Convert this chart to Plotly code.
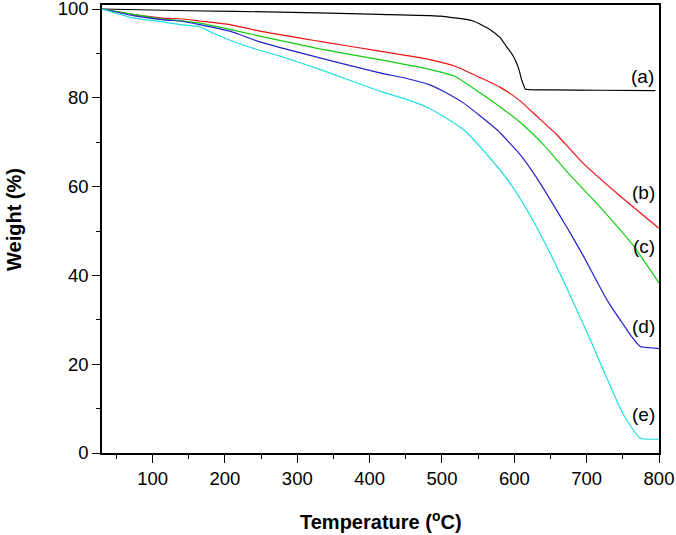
import plotly.graph_objects as go

# Temperature (°C) sample points and weight (%) for each curve
t_a = [30, 150, 276, 414, 497, 543, 566, 580, 589, 597, 603, 607, 610, 613, 615, 650, 720, 795]
w_a = [100, 99.6, 99.3, 98.8, 98.4, 97.3, 95.4, 93.6, 91.6, 89.8, 87.9, 86.0, 84.1, 82.8, 82.0, 81.8, 81.7, 81.6]

t_b = [30, 73, 119, 138, 165, 207, 248, 331, 414, 483, 518, 552, 580, 608, 630, 658, 695, 741, 797, 800]
w_b = [100, 98.8, 97.9, 97.8, 97.3, 96.5, 95.0, 92.7, 90.5, 88.6, 87.1, 84.6, 82.4, 79.3, 76.0, 71.8, 65.3, 58.6, 51.0, 50.6]

t_c = [30, 73, 119, 138, 165, 207, 248, 331, 414, 483, 518, 552, 580, 608, 640, 672, 718, 764, 800]
w_c = [100, 98.8, 97.6, 97.4, 96.8, 95.4, 93.9, 91.0, 88.6, 86.4, 84.8, 81.2, 78.0, 74.5, 69.5, 63.5, 55.5, 46.8, 38.3]

t_d = [30, 73, 119, 138, 165, 207, 248, 331, 414, 450, 483, 505, 530, 576, 608, 630, 672, 695, 728, 764, 774, 795, 800]
w_d = [100, 98.5, 97.5, 97.3, 96.5, 95.0, 92.6, 89.0, 85.6, 84.4, 82.9, 81.2, 78.8, 72.8, 67.2, 62.2, 51.0, 44.5, 34.5, 25.8, 24.0, 23.6, 23.5]

t_e = [30, 73, 119, 138, 165, 183, 230, 276, 331, 414, 450, 483, 505, 530, 566, 594, 622, 654, 705, 750, 774, 795, 800]
w_e = [100, 98.0, 97.0, 96.5, 96.0, 94.6, 91.6, 89.4, 86.4, 81.5, 79.7, 77.6, 75.5, 72.8, 66.5, 60.8, 53.5, 43.5, 25.5, 8.9, 3.3, 3.1, 3.1]

series_names = ["(a)", "(b)", "(c)", "(d)", "(e)"]
series_t = [t_a, t_b, t_c, t_d, t_e]
series_w = [w_a, w_b, w_c, w_d, w_e]
colors = ["#000000", "#ee1111", "#11cc11", "#2222cc", "#22dddd"]

label_t = [777, 778, 779, 779, 779]
label_w = [84.8, 58.6, 46.5, 28.5, 8.6]

fig = go.Figure()
for name, t, w, c in zip(series_names, series_t, series_w, colors):
    fig.add_trace(go.Scatter(x=t, y=w, mode="lines", name=name,
                             line=dict(color=c, width=1.2, shape="spline", smoothing=0.5),
                             showlegend=False))

for name, x, y in zip(series_names, label_t, label_w):
    fig.add_annotation(x=x, y=y, text=name, showarrow=False,
                       font=dict(family="Liberation Sans, Arial", size=19, color="black"))

fig.add_annotation(xref="paper", yref="paper", x=0.5, y=0, yshift=-67,
                   xanchor="center", yanchor="middle",
                   text="<b>Temperature (<sup>o</sup>C)</b>", showarrow=False,
                   font=dict(family="Liberation Sans, Arial", size=20, color="black"))
fig.add_annotation(xref="paper", yref="paper", x=0, y=0.5, xshift=-88, yshift=9,
                   xanchor="center", yanchor="middle",
                   text="<b>Weight (%)</b>", textangle=-90, showarrow=False,
                   font=dict(family="Liberation Sans, Arial", size=20, color="black"))

axis_common = dict(showgrid=False, zeroline=False, showline=True, linecolor="black",
                   linewidth=1.6, mirror=True, ticks="outside", ticklen=8,
                   tickwidth=1.4, tickcolor="black", automargin=False,
                   ticklabeloverflow="allow",
                   tickfont=dict(family="Liberation Sans, Arial", size=18.5, color="black"))

fig.update_xaxes(range=[30, 800], tickvals=[100, 200, 300, 400, 500, 600, 700, 800],
                 minor=dict(tickvals=[50, 150, 250, 350, 450, 550, 650, 750],
                            ticks="outside", ticklen=4, tickwidth=1.2, tickcolor="black"),
                 **axis_common)
fig.update_yaxes(range=[0, 100.9], tickvals=[0, 20, 40, 60, 80, 100],
                 minor=dict(tickvals=[10, 30, 50, 70, 90],
                            ticks="outside", ticklen=4, tickwidth=1.2, tickcolor="black"),
                 **axis_common)

fig.update_layout(width=676, height=535, margin=dict(l=102, r=17, t=5, b=82),
                  plot_bgcolor="white", paper_bgcolor="white")

fig.write_html("out.html", config={"displayModeBar": False},
               post_script="document.body.style.margin='0';")
